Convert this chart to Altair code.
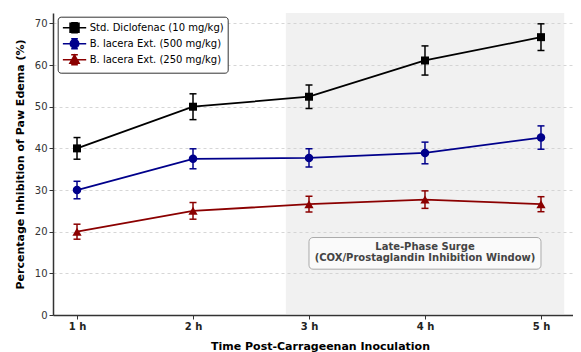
import altair as alt
import pandas as pd

# ---- data ----
hours = [1, 2, 3, 4, 5]
series_names = [
    "Std. Diclofenac (10 mg/kg)",
    "B. lacera Ext. (500 mg/kg)",
    "B. lacera Ext. (250 mg/kg)",
]
diclofenac = [40.0, 50.0, 52.4, 61.1, 66.7]
diclofenac_err = [2.6, 3.1, 2.8, 3.5, 3.2]
lacera500 = [30.0, 37.5, 37.7, 38.9, 42.6]
lacera500_err = [2.1, 2.4, 2.2, 2.6, 2.8]
lacera250 = [20.0, 25.0, 26.6, 27.7, 26.6]
lacera250_err = [1.8, 2.0, 1.9, 2.1, 1.8]
series_colors = ["#000000", "#00008B", "#8B0000"]
series_shapes = ["square", "circle", "triangle-up"]

y_ticks = [0, 10, 20, 30, 40, 50, 60, 70]
span_start, span_end = 2.8, 5.2
note_lines = ["Late-Phase Surge", "(COX/Prostaglandin Inhibition Window)"]

# ---- build table ----
rows = []
for name, vals, errs in zip(series_names, [diclofenac, lacera500, lacera250],
                            [diclofenac_err, lacera500_err, lacera250_err]):
    for h, v, e in zip(hours, vals, errs):
        rows.append({"hour": h, "series": name, "value": v, "lo": v - e, "hi": v + e})
df = pd.DataFrame(rows)

X_DOMAIN = [0.793, 5.276]
Y_DOMAIN = [0, 72.5]
W, H = 520, 302

xscale = alt.Scale(domain=X_DOMAIN, nice=False, zero=False)
yscale = alt.Scale(domain=Y_DOMAIN, nice=False, zero=False)

x_axis = alt.Axis(
    values=hours, labelExpr="datum.value + ' h'", grid=False,
    labelFontWeight="bold", labelFontSize=10, labelColor="#222",
    tickSize=4, tickColor="#333", tickWidth=1, domainColor="#333", domainWidth=1.5,
    labelPadding=2,
    title="Time Post-Carrageenan Inoculation", titleFontSize=11, titleFontWeight="bold",
    titleColor="#000", titleX=267, titleY=25, titleBaseline="top",
)
y_axis = alt.Axis(
    values=y_ticks, grid=True, gridColor="#cccccc", gridDash=[3, 3], gridWidth=0.8,
    labelFontSize=10, labelColor="#333", labelPadding=2,
    tickSize=4, tickColor="#333", tickWidth=1, domainColor="#333", domainWidth=1.5,
    title="Percentage Inhibition of Paw Edema (%)", titleFontSize=11,
    titleFontWeight="bold", titleColor="#000", titleX=-33, titleBaseline="middle",
)

# colour scale for the data marks (data-driven domain, sorted in series order)
COLOR = alt.Color("series:N", sort=series_names, scale=alt.Scale(range=series_colors), legend=None)

# shaded late-phase region
span_df = pd.DataFrame({"x0": [span_start], "x1": [span_end], "y0": [Y_DOMAIN[0]], "y1": [Y_DOMAIN[1]]})
span = alt.Chart(span_df).mark_rect(color="#d0d0d0", opacity=0.3).encode(
    x=alt.X("x0:Q", scale=xscale, axis=x_axis),
    x2="x1:Q",
    y=alt.Y("y0:Q", scale=yscale, axis=y_axis),
    y2="y1:Q",
)

base = alt.Chart(df)
X = alt.X("hour:Q", scale=xscale, axis=x_axis)

lines = base.mark_line(strokeWidth=1.8).encode(
    x=X, y=alt.Y("value:Q", scale=yscale, axis=y_axis), color=COLOR, detail="series:N"
)
err_rule = base.mark_rule(strokeWidth=1.5).encode(
    x=X, y=alt.Y("lo:Q", scale=yscale, axis=y_axis), y2="hi:Q", color=COLOR
)
cap_lo = base.mark_tick(orient="horizontal", size=7, thickness=1.5, opacity=1).encode(
    x=X, y=alt.Y("lo:Q", scale=yscale, axis=y_axis), color=COLOR
)
cap_hi = base.mark_tick(orient="horizontal", size=7, thickness=1.5, opacity=1).encode(
    x=X, y=alt.Y("hi:Q", scale=yscale, axis=y_axis), color=COLOR
)

point_sizes = [64, 72, 85]
point_layers = []
for name, shp, sz in zip(series_names, series_shapes, point_sizes):
    point_layers.append(
        base.transform_filter(alt.datum.series == name)
        .mark_point(shape=shp, size=sz, filled=True, opacity=1, strokeWidth=1)
        .encode(x=X, y=alt.Y("value:Q", scale=yscale, axis=y_axis), color=COLOR)
    )

# legend glyphs: line + error bar + marker (custom symbol paths)
glyph_square = "M-1,0H3M1,-0.86V0.86M0.43,-0.86H1.57M0.43,0.86H1.57M0.23,-0.77H1.77V0.77H0.23Z"
glyph_circle = "M-1,0H3M1,-0.86V0.86M0.43,-0.86H1.57M0.43,0.86H1.57M0.27,0A0.73,0.73,0,1,0,1.73,0A0.73,0.73,0,1,0,0.27,0Z"
glyph_tri = "M-1,0H3M1,-0.86V0.86M0.43,-0.86H1.57M0.43,0.86H1.57M1,-0.8L1.8,0.6L0.2,0.6Z"
legend_glyphs = [glyph_square, glyph_circle, glyph_tri]

leg = alt.Legend(
    title=None, orient="none", legendX=4.7, legendY=3.7, direction="vertical",
    symbolSize=136, symbolStrokeWidth=1.5, labelFont="DejaVu Sans", labelFontSize=10,
    labelColor="#000", labelOffset=14, padding=4, rowPadding=-3.5,
    strokeColor="#333", fillColor="#ffffff", cornerRadius=3,
)
# legend-only layer: its marks sit outside the x domain and are clipped away
legend_layer = base.transform_calculate(offplot="-100").mark_point(
    filled=True, opacity=1, strokeWidth=1.5, clip=True
).encode(
    x=alt.X("offplot:Q", scale=xscale, axis=x_axis),
    y=alt.Y("value:Q", scale=yscale, axis=y_axis),
    fill=alt.Fill("series:N", scale=alt.Scale(domain=series_names, range=series_colors), legend=leg),
    stroke=alt.Stroke("series:N", scale=alt.Scale(domain=series_names, range=series_colors), legend=leg),
    shape=alt.Shape("series:N", scale=alt.Scale(domain=series_names, range=legend_glyphs), legend=leg),
)

# annotation box
box_df = pd.DataFrame({"x0": [3.0], "x1": [5.0], "y0": [11.0], "y1": [18.6]})
box = alt.Chart(box_df).mark_rect(fill="#fafafa", stroke="#aaaaaa", strokeWidth=1, cornerRadius=4).encode(
    x=alt.X("x0:Q", scale=xscale, axis=x_axis), x2="x1:Q",
    y=alt.Y("y0:Q", scale=yscale, axis=y_axis), y2="y1:Q",
)
note_df = pd.DataFrame({"x": [4.0, 4.0], "y": [16.25, 13.6], "text": note_lines})
note = alt.Chart(note_df).mark_text(fontSize=10, fontWeight="bold", color="#444", baseline="middle",
                                    font="DejaVu Sans").encode(
    x=alt.X("x:Q", scale=xscale, axis=x_axis), y=alt.Y("y:Q", scale=yscale, axis=y_axis), text="text:N"
)

chart = alt.layer(span, box, note, lines, err_rule, cap_lo, cap_hi, *point_layers, legend_layer).properties(
    width=W, height=H,
    autosize=alt.AutoSizeParams(type="none"),
    padding={"left": 45, "top": 5, "right": 0, "bottom": 37},
).configure(font="DejaVu Sans").configure_view(stroke=None)

chart.save("out.html", embed_options={"renderer": "svg", "actions": False})
